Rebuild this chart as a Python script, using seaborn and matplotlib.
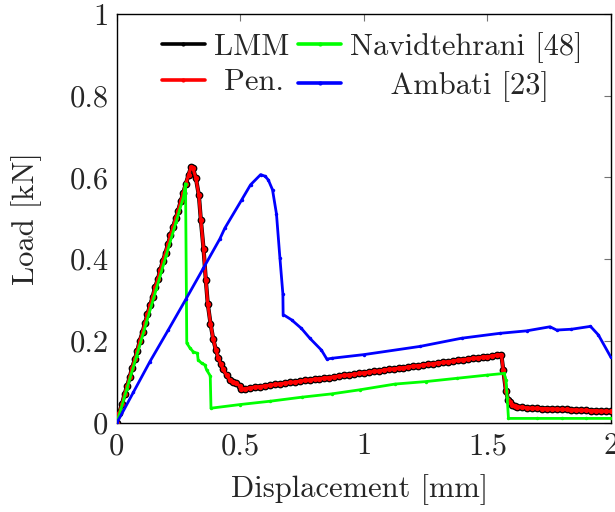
import matplotlib
matplotlib.use("Agg")
import matplotlib.pyplot as plt
import seaborn as sns
import pandas as pd

# ---------------- data ----------------
lmm_x = [0, 0.010, 0.021, 0.031, 0.042, 0.052, 0.062, 0.073, 0.083, 0.093, 0.104,
         0.114, 0.124, 0.135, 0.145, 0.155, 0.166, 0.176, 0.186, 0.197, 0.207,
         0.217, 0.228, 0.238, 0.248, 0.259, 0.269, 0.279, 0.290, 0.300, 0.308,
         0.320, 0.332, 0.340, 0.351, 0.360, 0.368, 0.379, 0.390, 0.401, 0.411,
         0.421, 0.430, 0.444, 0.457, 0.470, 0.484, 0.498, 0.502,
         0.52, 0.54, 0.56, 0.58, 0.60, 0.62, 0.64, 0.66, 0.68, 0.70, 0.72, 0.74,
         0.76, 0.78, 0.80, 0.82, 0.84, 0.86, 0.88, 0.90, 0.92, 0.94, 0.96, 0.98,
         1.00, 1.02, 1.04, 1.06, 1.08, 1.10, 1.12, 1.14, 1.16, 1.18, 1.20, 1.22,
         1.24, 1.26, 1.28, 1.30, 1.32, 1.34, 1.36, 1.38, 1.40, 1.42, 1.44, 1.46,
         1.48, 1.50, 1.52, 1.54, 1.556,
         1.564, 1.575, 1.584, 1.590, 1.600, 1.610, 1.620, 1.640, 1.660, 1.680,
         1.700, 1.720, 1.740, 1.760, 1.780, 1.800, 1.820, 1.840, 1.860, 1.880,
         1.900, 1.920, 1.940, 1.960, 1.980, 2.000]
lmm_y = [0, 0.025, 0.046, 0.070, 0.091, 0.112, 0.135, 0.156, 0.177, 0.201, 0.222,
         0.244, 0.266, 0.289, 0.309, 0.332, 0.352, 0.374, 0.396, 0.416, 0.437,
         0.459, 0.480, 0.500, 0.519, 0.543, 0.563, 0.584, 0.606, 0.625, 0.622,
         0.598, 0.556, 0.496, 0.425, 0.350, 0.291, 0.243, 0.205, 0.178, 0.158,
         0.143, 0.131, 0.117, 0.105, 0.100, 0.097, 0.090, 0.083,
         0.084, 0.086, 0.088, 0.089, 0.091, 0.092, 0.094, 0.096, 0.097, 0.099, 0.100, 0.102,
         0.104, 0.105, 0.107, 0.108, 0.110, 0.111, 0.113, 0.115, 0.116, 0.118, 0.119, 0.121,
         0.123, 0.124, 0.126, 0.127, 0.129, 0.131, 0.132, 0.134, 0.135, 0.137, 0.139, 0.140,
         0.142, 0.143, 0.145, 0.147, 0.148, 0.150, 0.151, 0.153, 0.155, 0.156, 0.158, 0.159,
         0.161, 0.162, 0.164, 0.166, 0.167,
         0.129, 0.077, 0.056, 0.050, 0.045, 0.042, 0.040, 0.038, 0.037, 0.036,
         0.036, 0.035, 0.035, 0.034, 0.034, 0.033, 0.033, 0.032, 0.032, 0.031,
         0.031, 0.030, 0.030, 0.029, 0.029, 0.028]

pen_x = list(lmm_x)
pen_y = list(lmm_y)

navid_x = [0, 0.04, 0.08, 0.12, 0.16, 0.20, 0.24, 0.27, 0.278,
           0.283, 0.296, 0.309, 0.326, 0.329, 0.343, 0.356, 0.363, 0.378, 0.381,
           0.50, 0.62, 0.75, 0.87, 0.984, 1.126, 1.25, 1.375, 1.50, 1.567,
           1.575, 1.580, 1.585, 1.70, 1.80, 1.90, 2.00]
navid_y = [0, 0.082, 0.164, 0.246, 0.328, 0.410, 0.492, 0.553, 0.585,
           0.195, 0.183, 0.174, 0.170, 0.154, 0.146, 0.142, 0.130, 0.115, 0.036,
           0.045, 0.053, 0.063, 0.071, 0.081, 0.095, 0.101, 0.109, 0.117, 0.121,
           0.105, 0.060, 0.011, 0.011, 0.011, 0.011, 0.011]

amb_x = [0, 0.067, 0.134, 0.208, 0.280, 0.350, 0.417, 0.437, 0.505, 0.541,
         0.582, 0.600, 0.613, 0.630, 0.646, 0.660, 0.672, 0.673, 0.707, 0.747,
         0.781, 0.828, 0.850, 0.870, 1.000, 1.227, 1.395, 1.550, 1.658, 1.753,
         1.780, 1.840, 1.917, 1.949, 2.000]
amb_y = [0, 0.075, 0.150, 0.227, 0.303, 0.378, 0.450, 0.476, 0.545, 0.582,
         0.607, 0.603, 0.594, 0.570, 0.511, 0.403, 0.315, 0.265, 0.252, 0.231,
         0.207, 0.178, 0.156, 0.158, 0.167, 0.187, 0.207, 0.219, 0.225, 0.235,
         0.227, 0.229, 0.236, 0.215, 0.160]

x_ticks = [0, 0.5, 1, 1.5, 2]
x_tick_labels = ["0", "0.5", "1", "1.5", "2"]
y_ticks = [0, 0.2, 0.4, 0.6, 0.8, 1]
y_tick_labels = ["0", "0.2", "0.4", "0.6", "0.8", "1"]

# ---------------- style ----------------
sns.set_theme(style="white")
plt.rcParams["font.family"] = ["cmr10", "DejaVu Serif"]
plt.rcParams["mathtext.fontset"] = "cm"
plt.rcParams["axes.formatter.use_mathtext"] = True
plt.rcParams["axes.unicode_minus"] = False

fig = plt.figure(figsize=(6.15, 5.12), dpi=100)
ax = fig.add_axes([0.190, 0.174, 0.8035, 0.799])

FS = 22

sns.lineplot(x=lmm_x, y=lmm_y, ax=ax, sort=False, estimator=None, color="black",
             lw=3.0, marker="o", markersize=5.6, markeredgewidth=0,
             markerfacecolor="black", label="LMM", zorder=2)
sns.lineplot(x=pen_x, y=pen_y, ax=ax, sort=False, estimator=None, color="#ff0000",
             lw=2.2, marker="o", markersize=3.8, markeredgewidth=0,
             markerfacecolor="#ff0000", label=" Pen.", zorder=3)
sns.lineplot(x=navid_x, y=navid_y, ax=ax, sort=False, estimator=None, color="#00ff00",
             lw=2.0, marker="o", markersize=2.5, markeredgewidth=0,
             label="Navidtehrani [48]", zorder=4)
sns.lineplot(x=amb_x, y=amb_y, ax=ax, sort=False, estimator=None, color="#0000ff",
             lw=2.0, marker="o", markersize=2.5, markeredgewidth=0,
             label="    Ambati [23]", zorder=5)

ax.set_xlim(0, 2)
ax.set_ylim(0, 1)
ax.set_xticks(x_ticks)
ax.set_xticklabels(x_tick_labels)
ax.set_yticks(y_ticks)
ax.set_yticklabels(y_tick_labels)
ax.tick_params(axis="both", which="both", direction="in", length=5, width=0.8,
               color="0.45", labelsize=FS, top=True, right=True)
ax.tick_params(axis="x", pad=7)
ax.tick_params(axis="y", pad=6)
for s in ax.spines.values():
    s.set_color("black")
    s.set_linewidth(1.0)
ax.set_xlabel("Displacement [mm]", fontsize=FS)
ax.set_ylabel("Load [kN]", fontsize=FS)
ax.xaxis.set_label_coords(0.492, -0.125)
ax.yaxis.set_label_coords(-0.152, 0.5)

leg = ax.legend(ncol=2, loc="upper right", frameon=False, fontsize=FS,
                handlelength=1.4, handletextpad=0.3, columnspacing=0.3,
                labelspacing=0.26, borderpad=0, borderaxespad=0,
                bbox_to_anchor=(583 / 615, 1 - 32 / 512),
                bbox_transform=fig.transFigure)
for ln in leg.get_lines():
    ln.set_linewidth(2.6)
    ln.set_markersize(3.0)

fig.savefig("out.png", dpi=100)
